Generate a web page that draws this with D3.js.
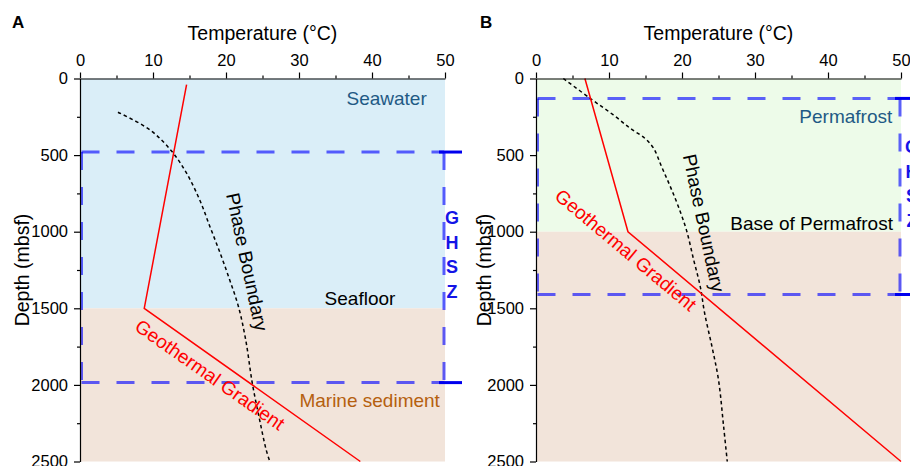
<!DOCTYPE html>
<html><head><meta charset="utf-8">
<script src="https://cdn.jsdelivr.net/npm/d3@7/dist/d3.min.js"></script>
<style>
html,body{margin:0;padding:0;background:#fff;overflow:hidden}
text{font-family:"Liberation Sans",Arial,Helvetica,sans-serif}
</style>
</head><body>
<svg id="chart" width="910" height="466"></svg>
<script>
// ---------- data ----------
const tempTicks = [0, 10, 20, 30, 40, 50];
const tempMinorTicks = [5, 15, 25, 35, 45];
const depthTicks = [0, 500, 1000, 1500, 2000, 2500];
const depthMinorTicks = [250, 750, 1250, 1750, 2250];
const xTitle = "Temperature (°C)";
const yTitle = "Depth (mbsf)";
const ghszLetters = ["G", "H", "S", "Z"];

// Panel A (marine)
const zoneA_names = ["Seawater", "Marine sediment"];
const zoneA_tops = [0, 1500];
const zoneA_bottoms = [1500, 2500];
const geoA_T = [14.6, 8.8, 38.4];
const geoA_D = [40, 1500, 2500];
const phaseA_T = [5.2, 9.6, 12.6, 14.6, 16.4, 17.8, 19.2, 20.5, 21.7, 22.7, 23.6, 24.6, 25.5, 26.0];
const phaseA_D = [220, 336, 477, 618, 793, 967, 1140, 1314, 1488, 1706, 1988, 2227, 2423, 2500];
const ghszA = [480, 1985];

// Panel B (permafrost)
const zoneB_names = ["Permafrost", "Sediment"];
const zoneB_tops = [0, 1000];
const zoneB_bottoms = [1000, 2500];
const geoB_T = [6.7, 12.6, 50];
const geoB_D = [0, 1000, 2500];
const phaseB_T = [3.75, 7.6, 10.6, 12.9, 14.9, 16.1, 17.2, 18.4, 19.5, 20.6, 21.6, 22.5, 23.1, 24.1, 25.0, 25.7, 26.2];
const phaseB_D = [0, 136, 238, 325, 390, 455, 575, 706, 836, 988, 1184, 1358, 1532, 1749, 1967, 2271, 2500];
const ghszB = [130, 1410];

// ---------- styling ----------
const colSea = "#daeef8", colSed = "#f2e4da", colPerm = "#edfbe9";
const colBlueText = "#1f5a85", colSedText = "#b5600f";
const colRed = "#ff0000", colGhsz = "rgba(0,0,255,0.62)", colGhszSolid = "#0000ee";

const svg = d3.select("#chart");
const FONT_T = 16.5, FONT_TITLE = 19.5, FONT_ANN = 19;

function drawPanel(cfg) {
  const x = d3.scaleLinear().domain([0, 50]).range([cfg.x0, cfg.x0 + 365]);
  const y = d3.scaleLinear().domain([0, 2500]).range([78.5, 461.5]);
  const g = svg.append("g");

  // zone fills
  cfg.zoneTops.forEach((t, i) => {
    g.append("rect")
      .attr("x", x(0)).attr("y", y(t))
      .attr("width", x(50) - x(0)).attr("height", y(cfg.zoneBottoms[i]) - y(t))
      .attr("fill", cfg.zoneColors[i]);
  });

  // GHSZ dashed box
  const gx0 = x(0) + 1.5, gx1 = x(50) - 1, gy0 = y(cfg.ghsz[0]), gy1 = y(cfg.ghsz[1]);
  const dash = "18,17";
  [[gx0, gy0, gx1, gy0], [gx0, gy1, gx1, gy1], [gx0, gy0, gx0, gy1], [gx1, gy0, gx1, gy1]].forEach(s => {
    g.append("line").attr("x1", s[0]).attr("y1", s[1]).attr("x2", s[2]).attr("y2", s[3])
      .attr("stroke", colGhsz).attr("stroke-width", 3).attr("stroke-dasharray", dash);
  });
  // solid bracket marks at right
  [gy0, gy1].forEach(yy => {
    g.append("line").attr("x1", gx1 - 5).attr("x2", gx1 + 18).attr("y1", yy).attr("y2", yy)
      .attr("stroke", colGhszSolid).attr("stroke-width", 3);
  });
  const mid = (gy0 + gy1) / 2 - 13;
  ghszLetters.forEach((L, i) => {
    g.append("text").attr("x", gx1 + cfg.letterOff).attr("y", mid + (i - 1.5) * 24.5)
      .attr("dy", "0.36em").attr("text-anchor", "middle")
      .attr("font-size", 18).attr("font-weight", "bold").attr("fill", "#1414e6").text(L);
  });

  // lines
  const line = d3.line().x(d => x(d[0])).y(d => y(d[1]));
  g.append("path").datum(cfg.phaseT.map((t, i) => [t, cfg.phaseD[i]]))
    .attr("d", line.curve(d3.curveCatmullRom)).attr("fill", "none")
    .attr("stroke", "#000").attr("stroke-width", 1.5).attr("stroke-dasharray", "3.5,3");
  g.append("path").datum(cfg.geoT.map((t, i) => [t, cfg.geoD[i]]))
    .attr("d", d3.line().x(d => x(d[0])).y(d => y(d[1]))).attr("fill", "none")
    .attr("stroke", colRed).attr("stroke-width", 1.5);

  // annotations
  cfg.labels.forEach(l => {
    const t = g.append("text").attr("font-size", FONT_ANN).attr("fill", l.color).text(l.text);
    if (l.rot != null) {
      t.attr("text-anchor", "middle").attr("dy", "0.35em")
        .attr("transform", `translate(${x(l.t)},${y(l.d)}) rotate(${l.rot})`);
    } else {
      t.attr("x", x(l.t)).attr("y", y(l.d)).attr("text-anchor", "end");
    }
  });

  // axes
  const fmt = d3.format("d");
  const ax = g.append("g").attr("transform", `translate(0,${y(0)})`)
    .call(d3.axisTop(x).tickValues(tempTicks).tickFormat(fmt).tickSize(6).tickSizeOuter(0).tickPadding(7));
  const axm = g.append("g").attr("transform", `translate(0,${y(0)})`)
    .call(d3.axisTop(x).tickValues(tempMinorTicks).tickSize(3).tickFormat(""));
  axm.select(".domain").remove();
  const ay = g.append("g").attr("transform", `translate(${x(0)},0)`)
    .call(d3.axisLeft(y).tickValues(depthTicks).tickFormat(fmt).tickSize(6).tickSizeOuter(0).tickPadding(6));
  const aym = g.append("g").attr("transform", `translate(${x(0)},0)`)
    .call(d3.axisLeft(y).tickValues(depthMinorTicks).tickSize(3).tickFormat(""));
  aym.select(".domain").remove();
  [ax, ay, axm, aym].forEach(a => {
    a.selectAll("path,line").attr("stroke", "#000").attr("stroke-width", 1.2);
    a.selectAll("text").attr("font-size", FONT_T).attr("fill", "#000")
      .style("font-family", '"Liberation Sans",Arial,sans-serif');
  });

  // titles
  g.append("text").attr("x", (x(0) + x(50)) / 2).attr("y", 40).attr("text-anchor", "middle")
    .attr("font-size", FONT_TITLE).text(xTitle);
  g.append("text").attr("transform", `translate(${cfg.yTitleX},${(y(0) + y(2500)) / 2}) rotate(-90)`)
    .attr("text-anchor", "middle").attr("dy", "0.35em").attr("font-size", FONT_TITLE).text(yTitle);
  g.append("text").attr("x", cfg.letterX).attr("y", 28).attr("font-size", 17)
    .attr("font-weight", "bold").text(cfg.letter);
}

drawPanel({
  x0: 80, letter: "A", letterX: 12, yTitleX: 22, letterOff: 8,
  zoneTops: zoneA_tops, zoneBottoms: zoneA_bottoms, zoneColors: [colSea, colSed],
  geoT: geoA_T, geoD: geoA_D, phaseT: phaseA_T, phaseD: phaseA_D, ghsz: ghszA,
  labels: [
    {text: zoneA_names[0], t: 47.5, d: 173, color: colBlueText},
    {text: "Seafloor", t: 43.2, d: 1477, color: "#000"},
    {text: zoneA_names[1], t: 49.3, d: 2143, color: colSedText},
    {text: "Phase Boundary", t: 22.9, d: 1197, rot: 78, color: "#000"},
    {text: "Geothermal Gradient", t: 17.8, d: 1934, rot: 35, color: colRed}
  ]
});
drawPanel({
  x0: 536, letter: "B", letterX: 480, yTitleX: 484, letterOff: 12,
  zoneTops: zoneB_tops, zoneBottoms: zoneB_bottoms, zoneColors: [colPerm, colSed],
  geoT: geoB_T, geoD: geoB_D, phaseT: phaseB_T, phaseD: phaseB_D, ghsz: ghszB,
  labels: [
    {text: zoneB_names[0], t: 48.8, d: 290, color: colBlueText},
    {text: "Base of Permafrost", t: 48.9, d: 990, color: "#000"},
    {text: "Phase Boundary", t: 23.0, d: 943, rot: 78, color: "#000"},
    {text: "Geothermal Gradient", t: 12.3, d: 1119, rot: 40, color: colRed}
  ]
});
</script>
</body></html>
